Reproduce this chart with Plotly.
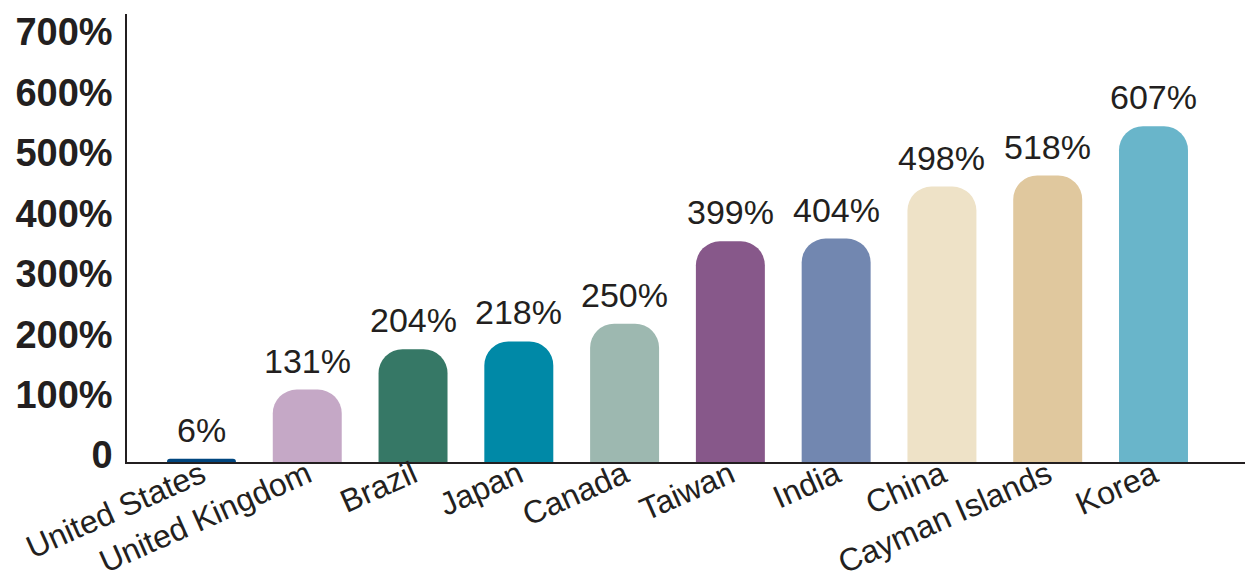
import plotly.graph_objects as go

countries = ["United States", "United Kingdom", "Brazil", "Japan", "Canada",
             "Taiwan", "India", "China", "Cayman Islands", "Korea"]
values = [6, 131, 204, 218, 250, 399, 404, 498, 518, 607]
labels = ["6%", "131%", "204%", "218%", "250%", "399%", "404%", "498%", "518%", "607%"]
colors = ["#00467F", "#C5A8C6", "#367866", "#0089A7", "#9DB8B0",
          "#87588A", "#7287B0", "#EEE2C7", "#E0C89E", "#69B5CA"]
tick_vals = [0, 100, 200, 300, 400, 500, 600, 700]
tick_text = ["0", "100%", "200%", "300%", "400%", "500%", "600%", "700%"]

TXT = "#231F20"
FONT = "Liberation Sans, Arial, sans-serif"

fig = go.Figure()
fig.add_trace(go.Bar(
    x=countries, y=values, yaxis="y2",
    marker=dict(color=colors, line=dict(width=0), cornerradius=24),
    hoverinfo="skip", showlegend=False,
))
# invisible anchor so the left tick axis is drawn
fig.add_trace(go.Scatter(x=[countries[0]], y=[tick_vals[0]], mode="markers",
                         marker=dict(opacity=0), hoverinfo="skip", showlegend=False))

for c, v, t in zip(countries, values, labels):
    fig.add_annotation(x=c, y=v, xref="x", yref="y2", text=t, showarrow=False,
                       yanchor="bottom", yshift=8,
                       font=dict(family=FONT, size=34, color=TXT))

fig.update_layout(
    width=1245, height=580,
    margin=dict(l=127, r=0, t=14, b=118),
    paper_bgcolor="white", plot_bgcolor="white",
    bargap=0.348,
    xaxis=dict(range=[-0.704, 9.865], showline=True, linecolor=TXT, linewidth=1.5,
               showgrid=False, zeroline=False, ticks="", tickangle=-24, automargin=False,
               ticklabelstandoff=-20,
               tickfont=dict(family=FONT, size=32, color=TXT)),
    yaxis=dict(range=[-11.6, 730.1], showline=True, linecolor=TXT, linewidth=1.5,
               showgrid=False, zeroline=False, ticks="", automargin=False,
               tickvals=tick_vals, ticktext=tick_text, ticklabelstandoff=5,
               tickfont=dict(family=FONT, size=38, color=TXT, weight="bold")),
    yaxis2=dict(range=[0, 810], overlaying="y", visible=False, showgrid=False,
                zeroline=False),
)

fig.write_html("out.html")
